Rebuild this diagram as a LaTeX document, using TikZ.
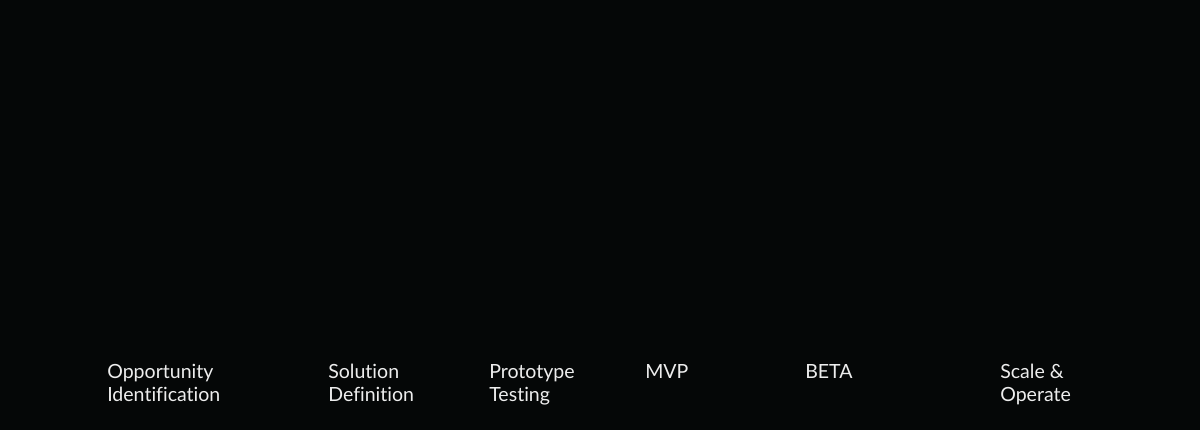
\documentclass[tikz,border=0pt]{standalone}
\usepackage{fontspec}
\setmainfont{Lato}[Ligatures=NoCommon]
\definecolor{bgdark}{HTML}{050707}
\definecolor{labelgray}{HTML}{EDEDED}
% lines of a stage label, hung from the first baseline
\newcommand{\stagetext}[1]{\begin{tabular}[t]{@{}l@{}}#1\end{tabular}}

\begin{document}
\begin{tikzpicture}[
	x=0.025cm, y=-0.025cm,
	stage/.style={
		anchor=base west,
		inner sep=0pt,
		text=labelgray,
		font=\fontsize{13.9pt}{16.4pt}\selectfont,
	},
]

\fill[bgdark] (0,0) rectangle (1200,430);
\useasboundingbox (0,0) rectangle (1200,430);

\node[stage] (oi) at (107,378.5) {\stagetext{Opportunity\\ Identification}};
\node[stage] (sd) at (328,378.5) {\stagetext{Solution\\ Definition}};
\node[stage] (pt) at (489,378.5) {\stagetext{Prototype\\ Testing}};
\node[stage] (mvp) at (645,378.5) {\stagetext{MVP}};
\node[stage] (beta) at (805,378.5) {\stagetext{BETA}};
\node[stage] (so) at (1000,378.5) {\stagetext{Scale \&\\ Operate}};

\end{tikzpicture}
\end{document}
